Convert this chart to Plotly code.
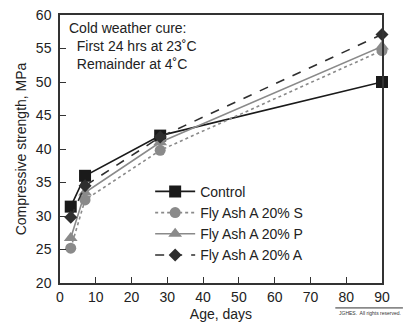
import plotly.graph_objects as go

ages = [3, 7, 28, 90]
control = [31.4, 36.0, 42.0, 50.0]
fly_s = [25.2, 32.4, 39.8, 54.7]
fly_p = [26.7, 33.5, 41.0, 55.3]
fly_a = [29.8, 34.5, 41.8, 57.1]

series = [
    ("Control", control, "#1a1a1a", "solid", "square", 12),
    ("Fly Ash A 20% S", fly_s, "#8a8a8a", "dot", "circle", 11),
    ("Fly Ash A 20% P", fly_p, "#8a8a8a", "solid", "triangle-up", 12),
    ("Fly Ash A 20% A", fly_a, "#2e2e2e", "dash", "diamond", 10),
]

fig = go.Figure()
for name, vals, col, dash, sym, size in series:
    fig.add_trace(go.Scatter(
        x=ages, y=vals, name=name, mode="lines+markers",
        line=dict(color=col, width=1.6, dash=dash),
        marker=dict(symbol=sym, size=size, color=col),
        cliponaxis=False,
    ))

font = "Liberation Sans, Arial, Helvetica, sans-serif"
axis_common = dict(
    showline=True, linecolor="#333", linewidth=1.5, mirror=True,
    ticks="inside", ticklen=6, tickcolor="#333", tickwidth=1,
    showgrid=False, zeroline=False, automargin=False,
    tickfont=dict(size=14, color="#222", family=font),
)
fig.update_xaxes(range=[0, 90], tickvals=[0, 10, 20, 30, 40, 50, 60, 70, 80, 90],
                 title=dict(text="Age, days", font=dict(size=14, color="#222", family=font), standoff=6),
                 **axis_common)
fig.update_yaxes(range=[20, 60], tickvals=[20, 25, 30, 35, 40, 45, 50, 55, 60],
                 title=dict(text="Compressive strength, MPa", font=dict(size=14, color="#222", family=font), standoff=6),
                 ticklabelstandoff=4,
                 **axis_common)

fig.add_annotation(xref="paper", yref="paper", x=0.022, y=0.99, xanchor="left", yanchor="top",
                   text="Cold weather cure:<br>  First 24 hrs at 23˚C<br>  Remainder at 4˚C",
                   showarrow=False, align="left",
                   font=dict(size=14, color="#222", family=font))

fig.add_annotation(xref="paper", yref="paper", x=1.065, y=-0.095, xanchor="right", yanchor="top",
                   text="JGHES.  All rights reserved.", showarrow=False,
                   font=dict(size=5, color="#333", family=font))
fig.add_shape(type="line", xref="paper", yref="paper", x0=0.855, x1=1.065, y0=-0.093, y1=-0.093,
              line=dict(color="#333", width=1))

fig.update_layout(
    width=403, height=326,
    margin=dict(l=60, r=21, t=15, b=43),
    paper_bgcolor="white", plot_bgcolor="white",
    font=dict(family=font, size=14, color="#222"),
    showlegend=True,
    legend=dict(x=0.28, y=0.40, xanchor="left", yanchor="top",
                bgcolor="rgba(0,0,0,0)", font=dict(size=14, color="#222", family=font),
                itemwidth=40, tracegroupgap=0),
)

fig.write_html("out.html", config={"displayModeBar": False},
               post_script="document.body.style.margin='0';document.body.style.padding='0';document.documentElement.style.overflow='hidden';")
